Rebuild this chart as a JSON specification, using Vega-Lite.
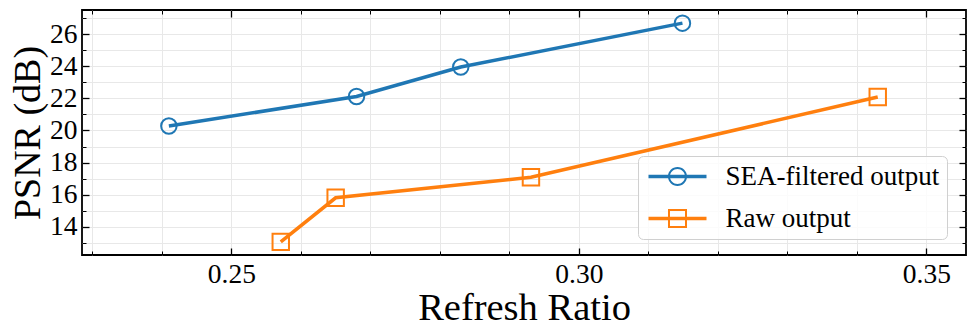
{
  "$schema": "https://vega.github.io/schema/vega-lite/v6.json",
  "width": 884,
  "height": 245,
  "autosize": {"type": "none"},
  "padding": {"left": 82, "top": 10, "right": 10, "bottom": 80},
  "background": "white",
  "config": {
    "view": {"stroke": "black", "strokeWidth": 1.8},
    "font": "Liberation Serif",
    "style": {
      "guide-label": {"font": "Liberation Serif", "fill": "black"},
      "guide-title": {"font": "Liberation Serif", "fill": "black", "fontWeight": "normal"}
    },
    "axis": {
      "domain": false,
      "labelFont": "Liberation Serif",
      "titleFont": "Liberation Serif",
      "titleFontWeight": "normal",
      "labelColor": "black",
      "titleColor": "black",
      "tickColor": "black",
      "gridColor": "#e8e8e8",
      "gridWidth": 1
    },
    "legend": {"labelFont": "Liberation Serif"}
  },
  "data": {
    "values": [
      {"series": "SEA-filtered output", "ratio": 0.241, "psnr": 20.28},
      {"series": "SEA-filtered output", "ratio": 0.268, "psnr": 22.12},
      {"series": "SEA-filtered output", "ratio": 0.283, "psnr": 23.96},
      {"series": "SEA-filtered output", "ratio": 0.3149, "psnr": 26.7},
      {"series": "Raw output", "ratio": 0.2571, "psnr": 13.05},
      {"series": "Raw output", "ratio": 0.265, "psnr": 15.8},
      {"series": "Raw output", "ratio": 0.2931, "psnr": 17.08},
      {"series": "Raw output", "ratio": 0.343, "psnr": 22.09}
    ]
  },
  "resolve": {"axis": {"x": "independent", "y": "independent"}},
  "layer": [
    {
      "mark": {"type": "point", "opacity": 0},
      "encoding": {
        "x": {"field": "ratio", "type": "quantitative", "scale": {"domain": [0.2285, 0.3557], "nice": false, "zero": false},
          "axis": {"orient": "bottom", "values": [0.23,0.24,0.25,0.26,0.27,0.28,0.29,0.30,0.31,0.32,0.33,0.34,0.35], "grid": true, "labels": false, "tickSize": -4, "tickWidth": 1, "title": null}},
        "y": {"field": "psnr", "type": "quantitative", "scale": {"domain": [12.23, 27.52], "nice": false, "zero": false},
          "axis": {"orient": "left", "values": [13,14,15,16,17,18,19,20,21,22,23,24,25,26,27], "grid": true, "labels": false, "tickSize": -4, "tickWidth": 1, "title": null}}
      }
    },
    {
      "mark": {"type": "point", "opacity": 0},
      "encoding": {
        "x": {"field": "ratio", "type": "quantitative",
          "axis": {"orient": "top", "values": [0.25,0.30,0.35], "grid": false, "labels": false, "tickSize": -7, "tickWidth": 1.3, "title": null}},
        "y": {"field": "psnr", "type": "quantitative",
          "axis": {"orient": "right", "values": [14,16,18,20,22,24,26], "grid": false, "labels": false, "tickSize": -7, "tickWidth": 1.3, "title": null}}
      }
    },
    {
      "mark": {"type": "point", "opacity": 0},
      "encoding": {
        "x": {"field": "ratio", "type": "quantitative",
          "axis": {"orient": "top", "values": [0.23,0.24,0.26,0.27,0.28,0.29,0.31,0.32,0.33,0.34], "grid": false, "labels": false, "tickSize": -4, "tickWidth": 1, "title": null}},
        "y": {"field": "psnr", "type": "quantitative",
          "axis": {"orient": "right", "values": [13,15,17,19,21,23,25,27], "grid": false, "labels": false, "tickSize": -4, "tickWidth": 1, "title": null}}
      }
    },
    {
      "mark": {"type": "line", "strokeWidth": 3.5},
      "encoding": {
        "x": {"field": "ratio", "type": "quantitative",
          "axis": {"orient": "bottom", "values": [0.25,0.30,0.35], "format": ".2f", "grid": false, "tickSize": -7, "tickWidth": 1.3, "labelFont": "Liberation Serif", "labelFontSize": 27.5, "labelPadding": 12, "title": "Refresh Ratio", "titleFont": "Liberation Serif", "titleFontSize": 38.5, "titlePadding": 2}},
        "y": {"field": "psnr", "type": "quantitative",
          "axis": {"orient": "left", "values": [14,16,18,20,22,24,26], "grid": false, "tickSize": -7, "tickWidth": 1.3, "labelFont": "Liberation Serif", "labelFontSize": 27.5, "labelPadding": 12, "title": "PSNR (dB)", "titleFont": "Liberation Serif", "titleFontSize": 38, "titlePadding": 2}},
        "color": {"field": "series", "type": "nominal",
          "scale": {"domain": ["SEA-filtered output", "Raw output"], "range": ["#1f77b4", "#ff7f0e"]},
          "legend": {
            "orient": "none", "legendX": 556, "legendY": 146, "title": null,
            "labelFont": "Liberation Serif", "labelFontSize": 27, "labelColor": "black", "labelLimit": 0,
            "fillColor": "rgba(255,255,255,0.8)", "strokeColor": "#d0d0d0", "cornerRadius": 5,
            "padding": 7, "rowPadding": 14, "symbolSize": 324, "symbolOffset": 19, "labelOffset": 34.5,
            "encode": {"symbols": {"update": {
              "shape": {"signal": "datum.value == 'Raw output' ? 'M-3.222,-0.2L3.222,-0.2L3.222,0.2L-3.222,0.2Z M-1.056,-1.056L1.056,-1.056L1.056,1.056L-1.056,1.056Z M-0.833,-0.833L-0.833,0.833L0.833,0.833L0.833,-0.833Z' : 'M-3.222,-0.2L3.222,-0.2L3.222,0.2L-3.222,0.2Z M1.056,0A1.056,1.056,0,1,1,-1.056,0A1.056,1.056,0,1,1,1.056,0Z M0.833,0A0.833,0.833,0,1,0,-0.833,0A0.833,0.833,0,1,0,0.833,0Z'"},
              "fill": {"signal": "scale('color', datum.value)"},
              "stroke": {"value": "transparent"},
              "strokeWidth": {"value": 0},
              "size": {"value": 324},
              "opacity": {"value": 1}
            }}}
          }
        }
      }
    },
    {
      "transform": [{"filter": "datum.series == 'SEA-filtered output'"}],
      "mark": {"type": "point", "shape": "circle", "filled": false, "strokeWidth": 2, "size": 240, "opacity": 1, "color": "#1f77b4"},
      "encoding": {
        "x": {"field": "ratio", "type": "quantitative", "axis": null},
        "y": {"field": "psnr", "type": "quantitative", "axis": null}
      }
    },
    {
      "transform": [{"filter": "datum.series == 'Raw output'"}],
      "mark": {"type": "point", "shape": "square", "filled": false, "strokeWidth": 2, "size": 270, "opacity": 1, "color": "#ff7f0e"},
      "encoding": {
        "x": {"field": "ratio", "type": "quantitative", "axis": null},
        "y": {"field": "psnr", "type": "quantitative", "axis": null}
      }
    }
  ]
}
